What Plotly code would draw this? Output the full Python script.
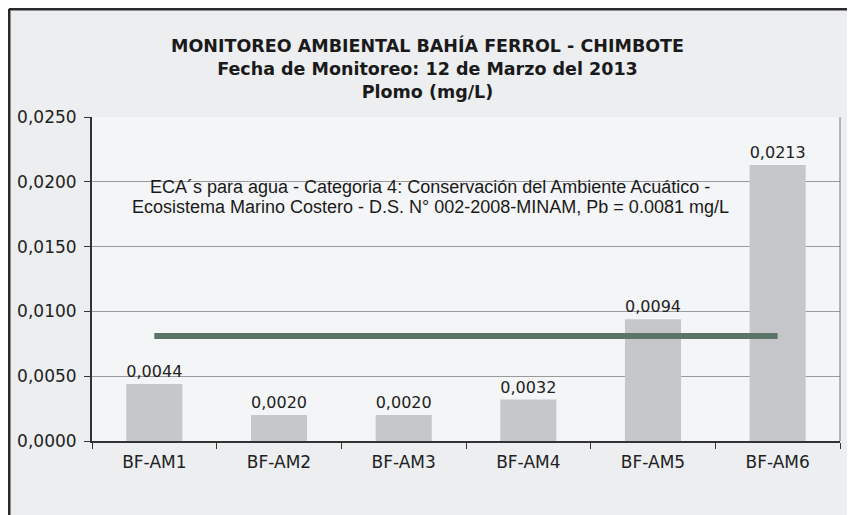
import plotly.graph_objects as go

categories = ["BF-AM1", "BF-AM2", "BF-AM3", "BF-AM4", "BF-AM5", "BF-AM6"]
plomo = [0.0044, 0.0020, 0.0020, 0.0032, 0.0094, 0.0213]
eca_limit = 0.0081
eca_values = [eca_limit] * len(categories)
y_ticks = [0.0, 0.005, 0.010, 0.015, 0.020, 0.025]

title_text = ("<b>MONITOREO AMBIENTAL BAHÍA FERROL - CHIMBOTE<br>"
              "Fecha de Monitoreo: 12 de Marzo del 2013<br>"
              "Plomo (mg/L)</b>")
note_lines = ["ECA´s para agua - Categoria 4: Conservación del Ambiente Acuático -",
              "Ecosistema Marino Costero - D.S. N° 002-2008-MINAM, Pb = 0.0081 mg/L"]

OFF = 8
W, H = 855 - OFF, 515 - OFF
ML, MT = 92 - OFF, 117 - OFF
MR = W - (840 - OFF)
MB = H - (441 - OFF)
PW, PH = W - ML - MR, H - MT - MB

def px_x(x):  # screen px -> paper x
    return (x - OFF - ML) / PW

def px_y(y):  # screen px -> paper y
    return (H - MB - (y - OFF)) / PH

fig = go.Figure()
fig.add_trace(go.Bar(
    x=categories, y=plomo, width=0.45,
    marker=dict(color="#c6c7ca", line=dict(width=0)),
    texttemplate="%{y:.4f}", textposition="outside",
    textfont=dict(family="DejaVu Sans", size=16, color="#222222"),
    cliponaxis=False, showlegend=False,
))
fig.add_trace(go.Scatter(
    x=categories, y=eca_values, mode="lines",
    line=dict(color="#5a7565", width=6),
    showlegend=False, hoverinfo="skip",
))

for i, line in enumerate(note_lines):
    fig.add_annotation(
        text=line, xref="paper", yref="paper", x=px_x(430), y=px_y(187 + 20 * i),
        showarrow=False, align="center", yanchor="middle",
        font=dict(family="Liberation Sans", size=18, color="#1a1a1a"),
    )

# outer frame of the scanned chart (top and left)
fig.add_shape(type="line", xref="paper", yref="paper",
              x0=px_x(9), x1=px_x(900), y0=px_y(9), y1=px_y(9),
              line=dict(color="#2a2a2a", width=3))
fig.add_shape(type="line", xref="paper", yref="paper",
              x0=px_x(9), x1=px_x(9), y0=px_y(9), y1=px_y(560),
              line=dict(color="#2a2a2a", width=3))

fig.update_layout(
    width=W, height=H,
    margin=dict(l=ML, r=MR, t=MT, b=MB, autoexpand=False),
    paper_bgcolor="#eceef0",
    plot_bgcolor="#f4f5f6",
    separators=",.",
    title=dict(text=title_text, x=0.5 - OFF / 2 / W, xref="container", xanchor="center",
               y=1 - 44 / H, yref="container", yanchor="top",
               font=dict(family="DejaVu Sans", size=17.5, color="#1a1a1a")),
    xaxis=dict(
        showline=True, linecolor="#333333", linewidth=2, mirror=False,
        ticks="outside", tickson="boundaries", ticklen=6, tickcolor="#333333",
        tickfont=dict(family="DejaVu Sans", size=17, color="#222222"),
        ticklabelstandoff=5,
        showgrid=False,
    ),
    yaxis=dict(
        range=[0, 0.025], tickvals=y_ticks, tickformat=".4f",
        showline=True, linecolor="#333333", linewidth=2,
        ticks="outside", ticklen=6, tickcolor="#333333",
        tickfont=dict(family="DejaVu Sans", size=17, color="#222222"),
        ticklabelstandoff=4,
        showgrid=True, gridcolor="#9a9a9a", gridwidth=1,
        zeroline=False,
    ),
)
# right edge of plot area
fig.add_shape(type="line", xref="paper", yref="paper", x0=1, x1=1, y0=0, y1=1,
              line=dict(color="#777777", width=1))

fig.write_html("out.html")
